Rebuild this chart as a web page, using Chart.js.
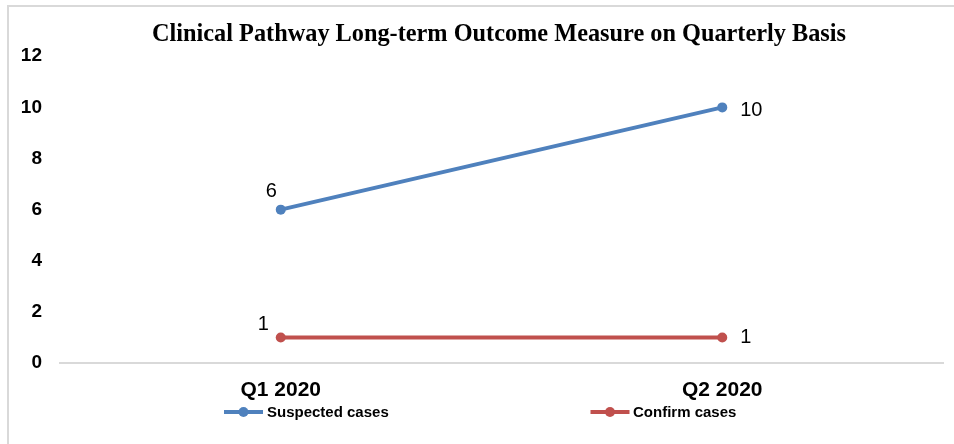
<!DOCTYPE html>
<html><head><meta charset="utf-8">
<script src="https://cdn.jsdelivr.net/npm/chart.js@4/dist/chart.umd.min.js"></script>
<style>
html,body{margin:0;padding:0;background:#fff;}
#wrap{position:relative;width:954px;height:444px;overflow:hidden;}
#frame{position:absolute;left:7px;top:5px;width:1000px;height:500px;border-left:2px solid #d9d9d9;border-top:2px solid #d9d9d9;}
canvas{position:absolute;left:0;top:0;}
</style></head><body>
<div id="wrap"><div id="frame"></div><canvas id="c" width="954" height="444"></canvas></div>
<script>
const categories = ['Q1 2020', 'Q2 2020'];
const suspectedCases = [6, 10];
const confirmCases = [1, 1];
const seriesNames = ['Suspected cases', 'Confirm cases'];
const yTickStep = 2;
const yMin = 0;
const yMax = 12;
const titleText = 'Clinical Pathway Long-term Outcome Measure on Quarterly Basis';

const BLUE = '#4f81bd';
const RED = '#c0504d';

// label placement (styling, not data)
const labelOffsets = [
  [{dx: -4, dy: -18, align: 'right'}, {dx: 18, dy: 3, align: 'left'}],
  [{dx: -12, dy: -13, align: 'right'}, {dx: 18, dy: 0, align: 'left'}]
];
const legendLayout = [{marker: 243.5, text: 267}, {marker: 610, text: 633}];
const legendY = 412;
const titleLeftInset = 55;

const titleShift = {
  id: 'titleShift',
  afterLayout(chart) {
    if (chart.titleBlock) {
      chart.titleBlock.left = titleLeftInset;
    }
  }
};

const dataLabels = {
  id: 'dataLabels',
  afterDatasetsDraw(chart) {
    const ctx = chart.ctx;
    ctx.save();
    ctx.font = '20px "Liberation Sans", Arial, sans-serif';
    ctx.fillStyle = '#000';
    ctx.textBaseline = 'middle';
    chart.data.datasets.forEach((ds, i) => {
      const meta = chart.getDatasetMeta(i);
      meta.data.forEach((pt, j) => {
        const o = labelOffsets[i][j];
        ctx.textAlign = o.align;
        ctx.fillText(String(ds.data[j]), pt.x + o.dx, pt.y + o.dy);
      });
    });
    ctx.restore();
  }
};

const customLegend = {
  id: 'customLegend',
  afterDraw(chart) {
    const ctx = chart.ctx;
    ctx.save();
    chart.data.datasets.forEach((ds, i) => {
      const L = legendLayout[i];
      ctx.strokeStyle = ds.borderColor;
      ctx.lineWidth = 4;
      ctx.beginPath();
      ctx.moveTo(L.marker - 19.5, legendY);
      ctx.lineTo(L.marker + 19.5, legendY);
      ctx.stroke();
      ctx.fillStyle = ds.borderColor;
      ctx.beginPath();
      ctx.arc(L.marker, legendY, 5, 0, Math.PI * 2);
      ctx.fill();
      ctx.fillStyle = '#000';
      ctx.font = 'bold 15px "Liberation Sans", Arial, sans-serif';
      ctx.textAlign = 'left';
      ctx.textBaseline = 'middle';
      ctx.fillText(ds.label, L.text, legendY + 1);
    });
    ctx.restore();
  }
};

new Chart(document.getElementById('c'), {
  type: 'line',
  data: {
    labels: categories,
    datasets: [
      {label: seriesNames[0], data: suspectedCases, borderColor: BLUE, backgroundColor: BLUE,
       pointBackgroundColor: BLUE, pointBorderColor: BLUE, borderWidth: 4, pointRadius: 5, pointBorderWidth: 0, tension: 0},
      {label: seriesNames[1], data: confirmCases, borderColor: RED, backgroundColor: RED,
       pointBackgroundColor: RED, pointBorderColor: RED, borderWidth: 4, pointRadius: 5, pointBorderWidth: 0, tension: 0}
    ]
  },
  options: {
    responsive: false,
    animation: false,
    devicePixelRatio: 1,
    layout: {padding: {top: 5, right: 11, left: 0, bottom: 0}},
    plugins: {
      legend: {display: false},
      tooltip: {enabled: false},
      title: {
        display: true,
        text: titleText,
        color: '#000',
        font: {family: '"Liberation Serif", "Times New Roman", serif', size: 24.3, weight: 'bold', lineHeight: 1.2},
        padding: {top: 15.5, bottom: 6.6}
      }
    },
    scales: {
      x: {
        offset: true,
        grid: {display: false, drawTicks: false},
        border: {display: true, color: '#d9d9d9', width: 2},
        ticks: {color: '#000', padding: 15, font: {family: '"Liberation Sans", Arial, sans-serif', size: 21, weight: 'bold'}},
        afterFit(s) { s.height = 81; }
      },
      y: {
        min: yMin, max: yMax,
        grid: {display: false, drawTicks: false},
        border: {display: false},
        ticks: {stepSize: yTickStep, color: '#000', padding: 18, font: {family: '"Liberation Sans", Arial, sans-serif', size: 19, weight: 'bold'}},
        afterFit(s) { s.width = 60; }
      }
    }
  },
  plugins: [titleShift, dataLabels, customLegend]
});
</script>
</body></html>
